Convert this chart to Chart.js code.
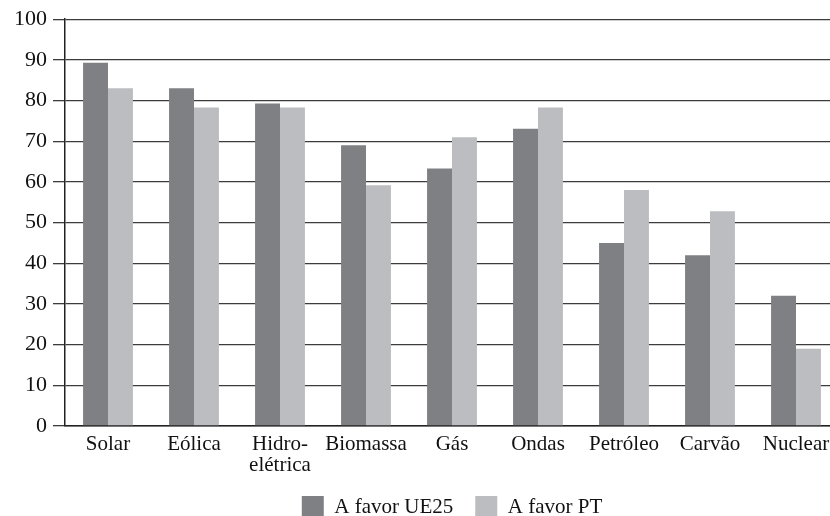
<!DOCTYPE html>
<html>
<head>
<meta charset="utf-8">
<script src="https://cdn.jsdelivr.net/npm/chart.js@4/dist/chart.umd.min.js"></script>
<style>
    html, body { margin: 0; padding: 0; background: #fff; overflow: hidden; }
    #wrap { width: 845px; height: 516px; }
</style>
</head>
<body>
<div id="wrap"><canvas id="energyChart"></canvas></div>
<script>
const categories = ['Solar', 'Eólica', ['Hidro-', 'elétrica'], 'Biomassa', 'Gás', 'Ondas', 'Petróleo', 'Carvão', 'Nuclear'];
const favorUE25 = [89.3, 83, 79.3, 69, 63.3, 73.1, 45, 42, 32];
const favorPT = [83, 78.3, 78.3, 59.2, 71, 78.3, 58, 52.8, 19];
const yTicks = [0, 10, 20, 30, 40, 50, 60, 70, 80, 90, 100];

document.addEventListener('DOMContentLoaded', function () {
    const ctx = document.getElementById('energyChart').getContext('2d');
    const serif = 'Liberation Serif, Times New Roman, serif';

    new Chart(ctx, {
        type: 'bar',
        data: {
            labels: categories,
            datasets: [{
                label: 'A favor UE25',
                data: favorUE25,
                backgroundColor: '#7f8084',
                borderWidth: 0
            }, {
                label: 'A favor PT',
                data: favorPT,
                backgroundColor: '#bcbdc1',
                borderWidth: 0
            }]
        },
        options: {
            responsive: true,
            maintainAspectRatio: false,
            animation: false,
            datasets: {
                bar: { barPercentage: 1, categoryPercentage: 0.58 }
            },
            layout: {
                padding: { top: 17, right: 6, left: 0, bottom: -12 }
            },
            scales: {
                x: {
                    afterFit: function (scale) { scale.height = 48; },
                    grid: { display: false, drawTicks: false },
                    border: { display: true, color: '#222', width: 1.5 },
                    ticks: {
                        color: '#111',
                        padding: 8,
                        maxRotation: 0,
                        autoSkip: false,
                        font: { family: serif, size: 21, lineHeight: 1.0 }
                    }
                },
                y: {
                    min: 0,
                    max: 100,
                    afterFit: function (scale) { scale.width = 65; },
                    afterBuildTicks: function (scale) {
                        scale.ticks = yTicks.map(v => ({ value: v }));
                    },
                    grid: {
                        color: '#3c3c3c',
                        lineWidth: 1.3,
                        tickLength: 12,
                        drawTicks: true
                    },
                    border: { display: true, color: '#222', width: 1.5 },
                    ticks: {
                        color: '#111',
                        padding: 6,
                        font: { family: serif, size: 22 }
                    }
                }
            },
            plugins: {
                legend: {
                    position: 'bottom',
                    fullSize: false,
                    labels: {
                        boxWidth: 22,
                        boxHeight: 22,
                        padding: 22,
                        color: '#111',
                        font: { family: serif, size: 21 }
                    }
                },
                tooltip: { enabled: false }
            }
        }
    });
});
</script>
</body>
</html>
